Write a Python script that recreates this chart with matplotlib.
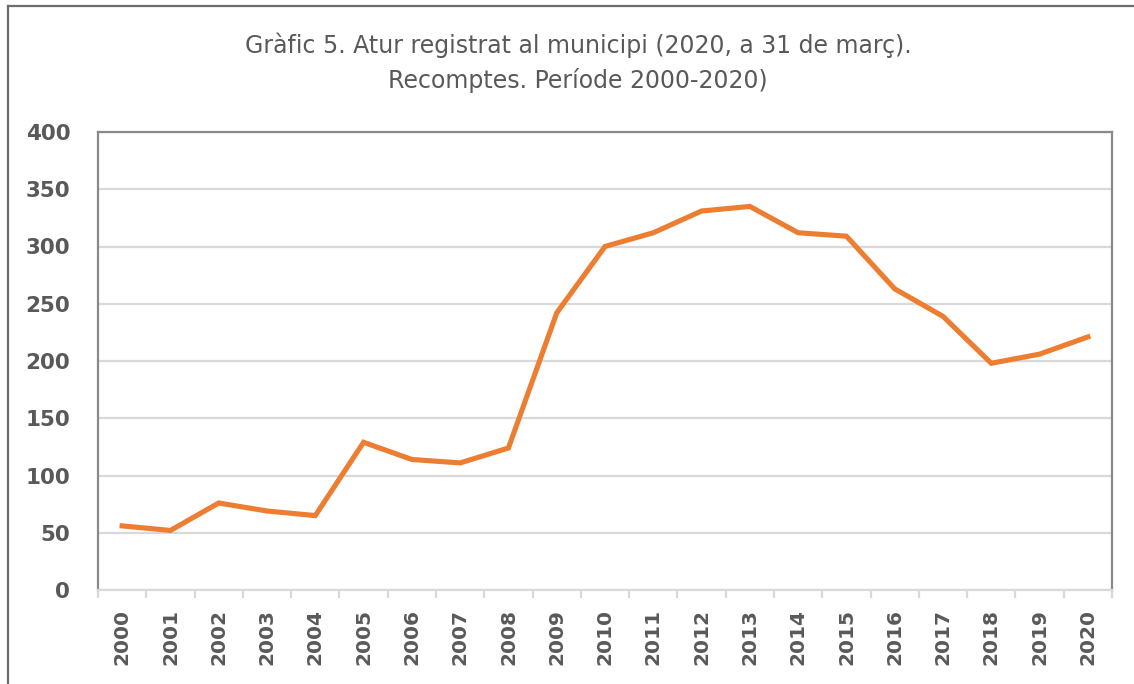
import matplotlib
matplotlib.use("Agg")
import matplotlib.pyplot as plt
from matplotlib.lines import Line2D
import numpy as np

years = [str(y) for y in range(2000, 2021)]
atur = [56, 52, 76, 69, 65, 129, 114, 111, 124, 242, 300, 312, 331, 335,
        312, 309, 263, 239, 198, 206, 221]
yticks = [0, 50, 100, 150, 200, 250, 300, 350, 400]

TXT = "#595959"
GRID = "#d9d9d9"
FRAME = "#898989"

fig = plt.figure(figsize=(11.34, 6.84), dpi=100)
ax = fig.add_axes([98 / 1134, 94 / 684, (1112 - 98) / 1134, (590 - 132) / 684])

x = np.arange(len(years))
ax.plot(x, atur, color="#ED7D31", lw=3.7, solid_joinstyle="miter", zorder=3)

ax.set_xlim(-0.5, len(years) - 0.5)
ax.set_ylim(0, 400)
ax.set_yticks(yticks)
ax.set_yticklabels([str(v) for v in yticks])
ax.grid(axis="y", color=GRID, lw=1.6)
ax.set_axisbelow(True)

ax.set_xticks(x)
ax.set_xticklabels(years, rotation=90)
ax.set_xticks(np.arange(len(years) + 1) - 0.5, minor=True)
ax.tick_params(axis="x", which="major", length=0, pad=14)
ax.tick_params(axis="x", which="minor", length=6, width=1.6, color=GRID)
ax.tick_params(axis="y", length=0, pad=20)
for lab in ax.get_xticklabels() + ax.get_yticklabels():
    lab.set_fontweight("bold")
    lab.set_fontsize(14.5)
    lab.set_color(TXT)
    lab.set_fontfamily("DejaVu Sans")
for lab in ax.get_yticklabels():
    lab.set_fontsize(15.5)

for side in ("left", "top", "right"):
    ax.spines[side].set_color(FRAME)
    ax.spines[side].set_linewidth(1.6)
ax.spines["bottom"].set_color(GRID)
ax.spines["bottom"].set_linewidth(1.6)

fig.text(578 / 1134, 1 - 63 / 684,
         "Gràfic 5. Atur registrat al municipi (2020, a 31 de març).\nRecomptes. Període 2000-2020)",
         ha="center", va="center", fontsize=17, color=TXT, linespacing=1.5,
         family="DejaVu Sans")

# outer chart frame (top and left edges only visible)
fig.add_artist(Line2D([8 / 1134, 1], [1 - 6 / 684, 1 - 6 / 684], transform=fig.transFigure,
                      color="#6d6d6d", lw=1.6))
fig.add_artist(Line2D([8 / 1134, 8 / 1134], [0, 1 - 6 / 684], transform=fig.transFigure,
                      color="#6d6d6d", lw=1.6))

fig.savefig("out.png", dpi=100, facecolor="white")
